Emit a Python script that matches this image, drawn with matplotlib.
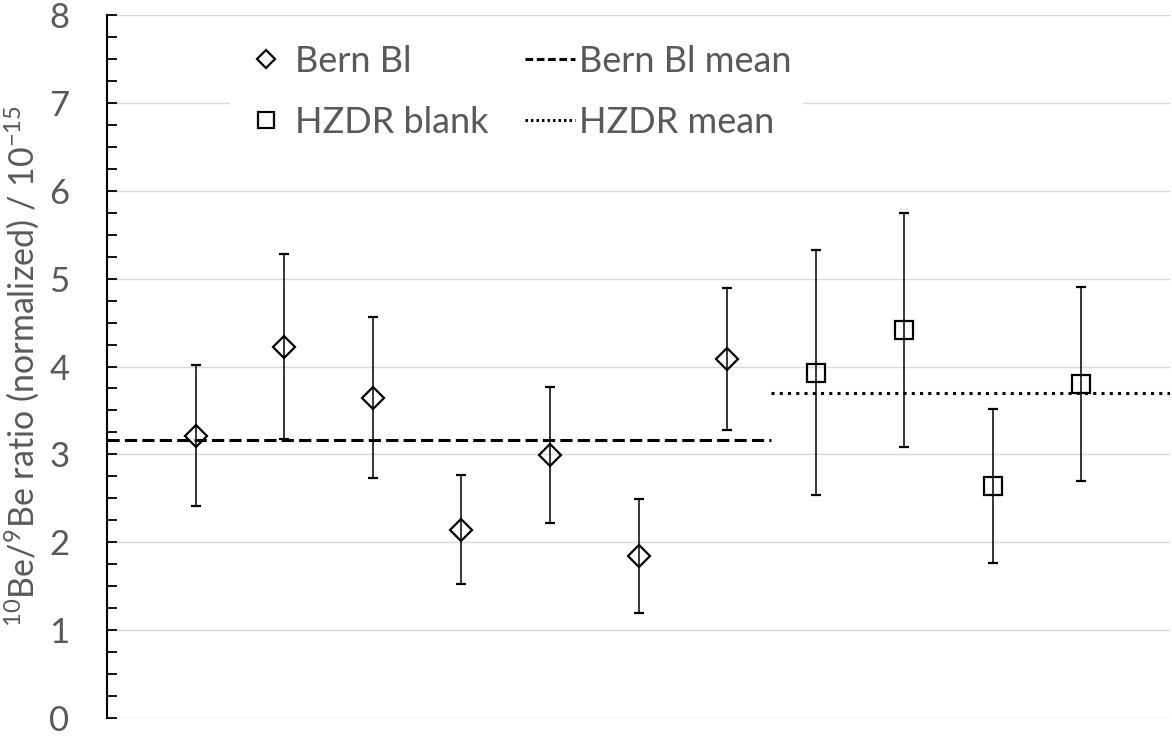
import matplotlib
matplotlib.use("Agg")
import matplotlib.pyplot as plt
from matplotlib.lines import Line2D

# data
bern_x = [1, 2, 3, 4, 5, 6, 7]
bern_y = [3.21, 4.22, 3.64, 2.14, 2.99, 1.84, 4.08]
bern_lo = [2.41, 3.17, 2.73, 1.53, 2.22, 1.19, 3.28]
bern_hi = [4.02, 5.28, 4.56, 2.77, 3.77, 2.49, 4.89]

hzdr_x = [8, 9, 10, 11]
hzdr_y = [3.93, 4.41, 2.64, 3.80]
hzdr_lo = [2.54, 3.08, 1.76, 2.70]
hzdr_hi = [5.33, 5.75, 3.52, 4.90]

bern_mean = 3.16
hzdr_mean = 3.70
split_x = 7.5

plt.rcParams["font.family"] = ["Lato", "DejaVu Sans"]
plt.rcParams["mathtext.fontset"] = "custom"
plt.rcParams["mathtext.rm"] = "Lato"
grey = "#595959"

fig = plt.figure(figsize=(11.72, 7.36), dpi=100)
ax = fig.add_axes([107 / 1172, 18 / 736, 1063 / 1172, 703 / 736])

ax.set_xlim(0, 12)
ax.set_ylim(0, 8)
ax.set_yticks(range(0, 9))
ax.set_yticks([i * 0.25 for i in range(33)], minor=True)
ax.set_xticks([])
ax.grid(axis="y", which="major", color="#d9d9d9", linewidth=1.0)
ax.set_axisbelow(True)
for s in ["top", "right", "bottom"]:
    ax.spines[s].set_visible(False)
ax.spines["left"].set_linewidth(1.5)
ax.tick_params(axis="y", which="both", direction="in", length=7, width=1.3,
               colors="black", labelcolor=grey, labelsize=25, pad=27)

ax.plot([0, split_x], [bern_mean, bern_mean], color="black", lw=2.2,
        dashes=(4, 1.7), dash_capstyle="butt")
ax.plot([split_x, 12], [hzdr_mean, hzdr_mean], color="black", lw=2.2,
        dashes=(1, 1.7), dash_capstyle="butt")

bern_err = [[y - l for y, l in zip(bern_y, bern_lo)], [h - y for y, h in zip(bern_y, bern_hi)]]
hzdr_err = [[y - l for y, l in zip(hzdr_y, hzdr_lo)], [h - y for y, h in zip(hzdr_y, hzdr_hi)]]
ax.errorbar(bern_x, bern_y, yerr=bern_err, fmt="D", ms=11, mfc="none", mec="black",
            mew=1.6, ecolor="black", elinewidth=1.1, capsize=3.5, capthick=1.1)
ax.errorbar(hzdr_x, hzdr_y, yerr=hzdr_err, fmt="s", ms=13, mfc="none", mec="black",
            mew=1.6, ecolor="black", elinewidth=1.1, capsize=3.5, capthick=1.1)

handles = [
    Line2D([], [], ls="none", marker="D", ms=9, mfc="none", mec="black", mew=1.6),
    Line2D([], [], ls="none", marker="s", ms=11, mfc="none", mec="black", mew=1.6),
    Line2D([], [], color="black", lw=2.2, dashes=(2.5, 1.2)),
    Line2D([], [], color="black", lw=2.2, dashes=(0.8, 1.0)),
]
labels = ["Bern Bl", "HZDR blank", "Bern Bl mean", "HZDR mean"]
leg = ax.legend(handles, labels, ncol=2, loc="upper left", bbox_to_anchor=(0.099, 0.999),
                fontsize=26, frameon=True, framealpha=1, edgecolor="white",
                fancybox=False, handlelength=1.4, handletextpad=0.1,
                columnspacing=1.0, labelspacing=0.78, borderpad=0.3)
for t in leg.get_texts():
    t.set_color(grey)

ax.set_ylabel(r"$\mathregular{^{10}}$Be/$\mathregular{^{9}}$Be ratio (normalized) / 10$\mathregular{^{-15}}$",
              fontsize=24.5, color=grey, labelpad=6)

fig.savefig("out.png", dpi=100)
